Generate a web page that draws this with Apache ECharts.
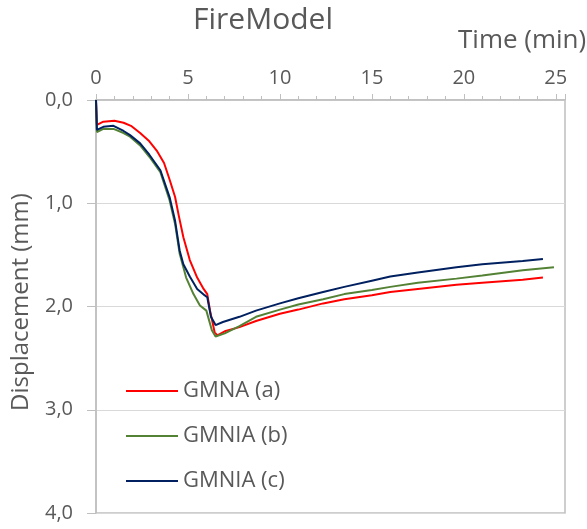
<!DOCTYPE html>
<html>
<head>
<meta charset="utf-8">
<script src="https://cdn.jsdelivr.net/npm/echarts@6/dist/echarts.min.js"></script>
<style>
  html, body { margin: 0; padding: 0; background: #fff; }
  #chart { width: 587px; height: 529px; }
</style>
</head>
<body>
<div id="chart"></div>
<script>
// time (min) / displacement (mm)
const timeA = [0, 0.05, 0.4, 1.0, 1.5, 1.9, 2.4, 2.9, 3.3, 3.7, 4.0, 4.3, 4.5, 4.75, 5.1, 5.5, 5.85, 6.05, 6.2, 6.45, 6.6, 7.0, 7.8, 8.7, 10, 11, 12.35, 13.5, 15, 16, 17.5, 19.6, 21, 23.2, 24.3]
const dispA = [0, 0.24, 0.21, 0.20, 0.22, 0.25, 0.32, 0.40, 0.49, 0.61, 0.77, 0.94, 1.12, 1.33, 1.55, 1.72, 1.83, 1.88, 2.04, 2.25, 2.28, 2.24, 2.20, 2.14, 2.07, 2.03, 1.97, 1.93, 1.89, 1.86, 1.83, 1.79, 1.77, 1.74, 1.72]

const timeB = [0, 0.05, 0.4, 0.95, 1.5, 1.85, 2.4, 2.9, 3.5, 4.0, 4.3, 4.55, 4.9, 5.3, 5.65, 6.0, 6.3, 6.5, 6.6, 7.0, 7.8, 8.7, 10, 11, 12.35, 13.5, 15, 16, 17.5, 19.6, 21, 23.2, 24.9]
const dispB = [0, 0.31, 0.28, 0.28, 0.32, 0.355, 0.44, 0.55, 0.70, 0.97, 1.20, 1.49, 1.72, 1.88, 1.99, 2.04, 2.23, 2.29, 2.30, 2.26, 2.19, 2.10, 2.03, 1.98, 1.93, 1.88, 1.84, 1.81, 1.77, 1.73, 1.70, 1.65, 1.62]

const timeC = [0, 0.05, 0.4, 0.95, 1.5, 1.85, 2.4, 2.9, 3.5, 4.0, 4.3, 4.55, 4.75, 5.1, 5.5, 5.9, 6.05, 6.25, 6.5, 6.9, 7.8, 8.7, 10, 11, 12.35, 13.5, 15, 16, 17.5, 19.6, 21, 23.2, 24.3]
const dispC = [0, 0.29, 0.26, 0.25, 0.30, 0.34, 0.42, 0.53, 0.68, 0.94, 1.17, 1.46, 1.59, 1.71, 1.83, 1.89, 1.91, 2.10, 2.18, 2.15, 2.10, 2.04, 1.97, 1.92, 1.86, 1.81, 1.75, 1.71, 1.67, 1.62, 1.59, 1.56, 1.54]

const seriesNames = ['GMNA (a)', 'GMNIA (b)', 'GMNIA (c)']
const seriesColors = ['#ff0000', '#548235', '#002060']

const font = 'Open Sans, sans-serif'
const grey = '#595959'
const axisGrey = '#bfbfbf'

function pairs(xs, ys) {
  return xs.map((x, i) => [x, ys[i]])
}

const chart = echarts.init(document.getElementById('chart'))

const lines = [pairs(timeA, dispA), pairs(timeB, dispB), pairs(timeC, dispC)]

chart.setOption({
  animation: false,
  title: [
    { text: 'FireModel', left: 188, top: 0, textStyle: { fontFamily: font, fontSize: 30, fontWeight: 'normal', color: grey } },
    { text: 'Time (min)', left: 453, top: 23, textStyle: { fontFamily: font, fontSize: 26, fontWeight: 'normal', color: grey } }
  ],
  // y axis title, rotated
  graphic: [{
    type: 'text',
    x: 21,
    y: 302,
    rotation: Math.PI / 2,
    style: {
      text: 'Displacement (mm)',
      fontFamily: font,
      fontSize: 24,
      fill: grey,
      align: 'center',
      verticalAlign: 'middle'
    }
  }],
  legend: {
    orient: 'vertical',
    left: 126,
    top: 378,
    padding: 0,
    itemGap: 19,
    itemWidth: 52,
    itemHeight: 2,
    icon: 'rect',
    textStyle: { fontFamily: font, fontSize: 22, lineHeight: 26, color: grey },
    data: seriesNames
  },
  grid: {
    left: 96, right: 22, top: 100, bottom: 16,
    show: true, borderColor: axisGrey, borderWidth: 1.5
  },
  xAxis: {
    type: 'value',
    position: 'top',
    min: 0,
    max: 25.5,
    interval: 5,
    axisLine: { show: true, lineStyle: { color: axisGrey, width: 1.5 } },
    axisTick: { show: true, length: 6, lineStyle: { color: axisGrey } },
    minorTick: { show: true, splitNumber: 5, length: 4, lineStyle: { color: axisGrey } },
    splitLine: { show: false },
    axisLabel: {
      fontFamily: font, fontSize: 20, color: grey, margin: 12,
      formatter: v => (v % 5 === 0 && v <= 25) ? String(v) : ''
    }
  },
  yAxis: {
    type: 'value',
    inverse: true,
    min: 0,
    max: 4,
    interval: 1,
    axisLine: { show: true, lineStyle: { color: axisGrey, width: 1.5 } },
    axisTick: { show: true, length: 9, lineStyle: { color: axisGrey } },
    splitLine: { show: true, lineStyle: { color: '#d9d9d9' } },
    axisLabel: {
      fontFamily: font, fontSize: 20, color: grey, margin: 23,
      formatter: v => v.toFixed(1).replace('.', ',')
    }
  },
  series: seriesNames.map((name, i) => ({
    name,
    type: 'line',
    showSymbol: false,
    symbol: 'none',
    data: lines[i],
    color: seriesColors[i],
    lineStyle: { width: 2, color: seriesColors[i] },
    z: 3 + i
  }))
})
</script>
</body>
</html>
